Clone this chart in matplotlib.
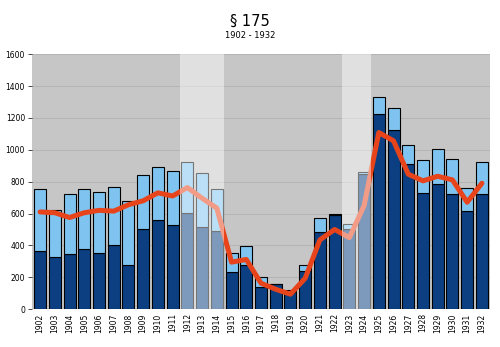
import numpy as np
import matplotlib
matplotlib.use('Agg')
import matplotlib.pyplot as plt

# data
years = list(range(1902, 1933))
total = [755, 620, 722, 757, 734, 766, 678, 839, 889, 864, 925, 854, 751,
         351, 399, 203, 161, 119, 276, 571, 596, 533, 859, 1334, 1261, 1027,
         935, 1004, 939, 759, 926]
dark = [362, 330, 345, 376, 351, 400, 280, 506, 559, 527, 602, 515, 492,
        232, 278, 136, 155, 110, 242, 485, 590, 504, 847, 1225, 1125, 910,
        728, 784, 721, 617, 721]
line = [610, 605, 575, 605, 620, 615, 655, 680, 730, 710, 763, 696, 634,
        295, 312, 163, 125, 94, 194, 435, 500, 449, 650, 1108, 1056, 847,
        805, 834, 811, 671, 790]
# highlighted year ranges (first, last)
bands = [(1912, 1914), (1923, 1924)]

dark_blue = '#0b3f82'
light_blue = '#7fc4f0'
orange = '#e8441c'

x = np.arange(len(years))
light = [t - d for t, d in zip(total, dark)]

fig = plt.figure(figsize=(5, 3.47), dpi=100)
ax = fig.add_axes([0.064, 0.109, 0.916, 0.735])
ax.set_facecolor('#c6c6c6')

for y in range(200, 1601, 200):
    ax.axhline(y, color='#adadad', lw=0.5, zorder=0.5)

ax.bar(x, dark, width=0.82, color=dark_blue, edgecolor='black', linewidth=0.8, zorder=2)
ax.bar(x, light, bottom=dark, width=0.82, color=light_blue, edgecolor='black', linewidth=0.8, zorder=2)
ax.plot(x, line, color=orange, lw=3.6, solid_joinstyle='round', solid_capstyle='round', zorder=3)

for a, b in bands:
    ax.axvspan(years.index(a) - 0.5, years.index(b) + 0.5, color='white', alpha=0.47, lw=0, zorder=4)

ax.set_xlim(-0.55, len(years) - 0.45)
ax.set_ylim(0, 1600)
ax.set_yticks(range(0, 1601, 200))
ax.set_xticks(x)
ax.set_xticklabels([str(y) for y in years], rotation=90)
ax.tick_params(axis='y', labelsize=5.5, length=3, width=0.5, pad=2)
ax.tick_params(axis='x', labelsize=5.5, length=0, pad=3)
for s in ax.spines.values():
    s.set_visible(False)

fig.text(0.5, 0.94, '§ 175', ha='center', va='center', fontsize=10.5)
fig.text(0.5, 0.897, '1902 - 1932', ha='center', va='center', fontsize=6)

fig.savefig('out.png', dpi=100)
